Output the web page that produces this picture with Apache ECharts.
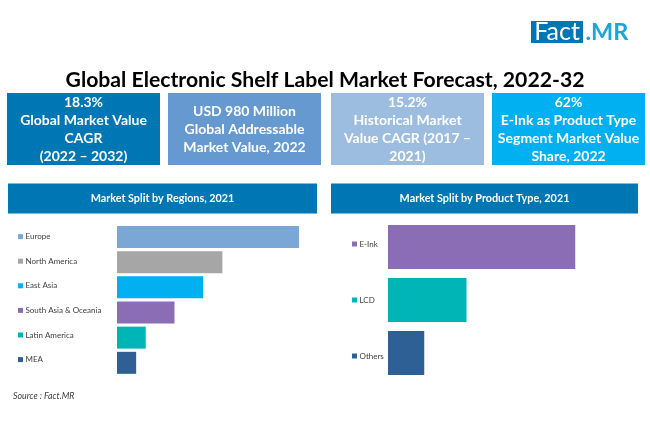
<!DOCTYPE html>
<html>
<head>
<meta charset="utf-8">
<title>Global Electronic Shelf Label Market Forecast</title>
<script src="https://cdn.jsdelivr.net/npm/echarts@6/dist/echarts.min.js"></script>
<style>
	body{margin:0;background:#fff;}
	#main{width:650px;height:443px;}
</style>
</head>
<body>
<div id="main"></div>
<script>
	var regionNames = ['Europe','North America','East Asia','South Asia & Oceania','Latin America','MEA'];
	var regionValues = [38,22,18,12,6,4];
	var regionColors = ['#7ba7d7','#a6a6a6','#00b0f0','#8a6db5','#00b5b5','#2e5f95'];

	var productNames = ['E-Ink','LCD','Others'];
	var productValues = [62,26,12];
	var productColors = ['#8a6db5','#00b5b5','#2e5f95'];

	var titleText = 'Global Electronic Shelf Label Market Forecast, 2022-32';
	var boxTexts = [
		'18.3%\nGlobal Market Value\nCAGR\n(2022 – 2032)',
		'USD 980 Million\nGlobal Addressable\nMarket Value, 2022',
		'15.2%\nHistorical Market\nValue CAGR (2017 –\n2021)',
		'62%\nE-Ink as Product Type\nSegment Market Value\nShare, 2022'
	];
	var boxColors = ['#0077b5','#6699cf','#9dbde0','#00b0f0'];
	var boxLeft = [7,168,331,492];
	var headerTexts = ['Market Split by Regions, 2021','Market Split by Product Type, 2021'];
	var sourceText = 'Source : Fact.MR';

	var fontName = 'Lato';

	function $each(arr,fn){
		for(var i=0;i<arr.length;i++){ fn(i,arr[i]); }
	}
	// small square + name, the square colour comes from the bar
	function richLabels(colors){
		var rich = {t:{fontFamily:fontName,fontSize:8,color:'#404040',padding:[0,0,0,2.5]}};
		$each(colors,function(k,c){
			rich['m'+k] = {backgroundColor:c,width:5,height:5};
		});
		return rich;
	}
	function barData(values,colors){
		var out = [];
		$each(values,function(k,v){
			out.push({value:v,itemStyle:{color:colors[k]}});
		});
		return out;
	}
	// bars axis, no labels
	function barAxis(names,grid){
		return {
			type:'category',gridIndex:grid,inverse:true,data:names,
			axisLine:{show:false},axisTick:{show:false},axisLabel:{show:false}
		};
	}
	// the labels do not sit at the same pitch as the bars, so they get their own grid
	function labelAxis(names,colors,grid){
		return {
			type:'category',gridIndex:grid,inverse:true,data:names,
			axisLine:{show:false},axisTick:{show:false},
			axisLabel:{
				align:'left',margin:0,rich:richLabels(colors),
				formatter:function(val,idx){ return '{m'+idx+'|}{t|'+val+'}'; }
			}
		};
	}

	var graphic = [];
	$each(boxTexts,function(k,txt){
		graphic.push({type:'rect',shape:{x:boxLeft[k],y:93,width:153,height:72},style:{fill:boxColors[k]}});
		graphic.push({type:'text',x:boxLeft[k]+76.5,y:129.5,style:{
			text:txt,fill:'#fff',font:'bold 14px '+fontName,lineHeight:18,
			align:'center',verticalAlign:'middle'
		}});
	});
	var headerLeft = [8,331], headerWidth = [309,307];
	$each(headerTexts,function(k,txt){
		graphic.push({type:'rect',shape:{x:headerLeft[k],y:183.5,width:headerWidth[k],height:30},style:{fill:'#0077b5'}});
		graphic.push({type:'text',x:headerLeft[k]+headerWidth[k]/2,y:198.5,style:{
			text:txt,fill:'#fff',font:'bold 10.8px '+fontName,align:'center',verticalAlign:'middle'
		}});
	});
	//logo
	graphic.push({type:'rect',shape:{x:531,y:21,width:52,height:22},style:{fill:'#0077b5'}});
	graphic.push({type:'text',x:557,y:32,style:{text:'Fact',fill:'#fff',font:'25px '+fontName,align:'center',verticalAlign:'middle'}});
	graphic.push({type:'text',x:585.5,y:32,style:{text:'.MR',fill:'#1aa7d8',font:'bold 23.5px '+fontName,align:'left',verticalAlign:'middle'}});
	graphic.push({type:'text',x:13,y:396,style:{text:sourceText,fill:'#404040',font:'italic 8.8px '+fontName,align:'left',verticalAlign:'middle'}});

	var option = {
		animation:false,
		backgroundColor:'#fff',
		title:{
			text:titleText,left:320,top:65,textAlign:'center',
			textStyle:{fontFamily:fontName,fontSize:21.2,fontWeight:'bold',color:'#000'}
		},
		grid:[
			{left:117,top:224.4,width:191.6,height:151},
			{left:388,top:220.5,width:211.4,height:159},
			{left:18,top:224.3,width:90,height:147.6},
			{left:352,top:216,width:30,height:168}
		],
		xAxis:[
			{type:'value',gridIndex:0,min:0,max:40,show:false},
			{type:'value',gridIndex:1,min:0,max:70,show:false},
			{type:'value',gridIndex:2,min:0,max:40,show:false},
			{type:'value',gridIndex:3,min:0,max:70,show:false}
		],
		yAxis:[
			barAxis(regionNames,0),
			barAxis(productNames,1),
			labelAxis(regionNames,regionColors,2),
			labelAxis(productNames,productColors,3)
		],
		series:[
			{type:'bar',xAxisIndex:0,yAxisIndex:0,barWidth:22,silent:true,data:barData(regionValues,regionColors)},
			{type:'bar',xAxisIndex:1,yAxisIndex:1,barWidth:44,silent:true,data:barData(productValues,productColors)}
		],
		graphic:graphic
	};
	var myChart = echarts.init(document.getElementById('main'));
	myChart.setOption(option);
</script>
</body>
</html>
